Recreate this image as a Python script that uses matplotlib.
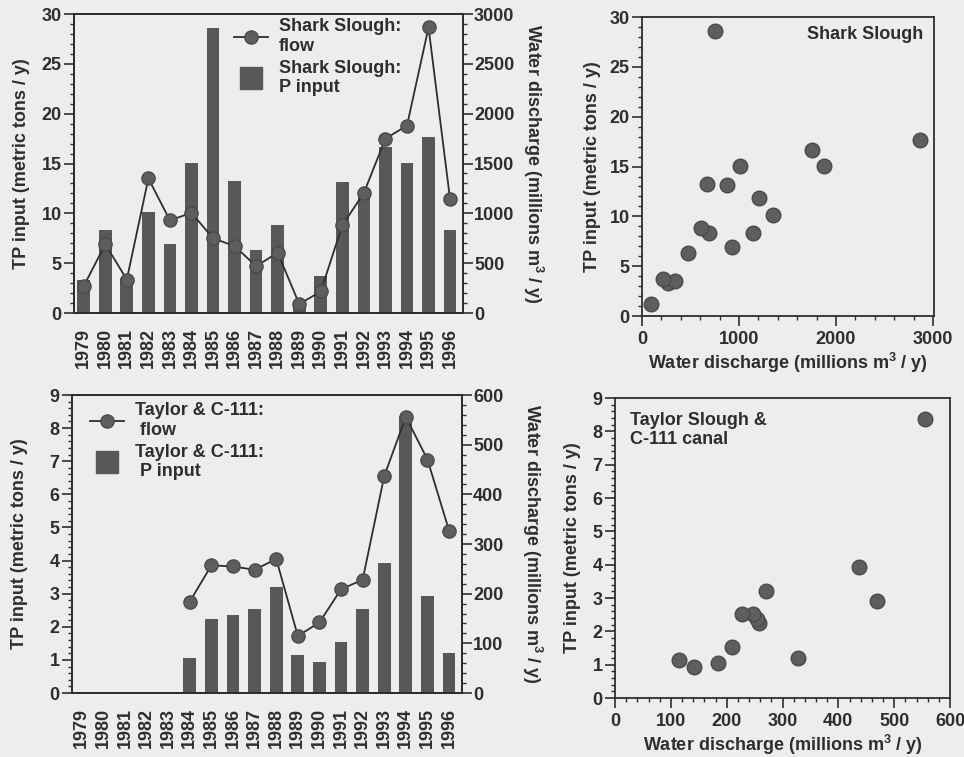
import numpy as np
import matplotlib
matplotlib.use("Agg")
import matplotlib.pyplot as plt
from matplotlib.ticker import MultipleLocator
from matplotlib.lines import Line2D

plt.rcParams['font.family'] = ['Liberation Sans', 'DejaVu Sans']
plt.rcParams['font.weight'] = 'bold'
plt.rcParams['axes.labelweight'] = 'bold'
plt.rcParams['font.size'] = 13

years = list(range(1979, 1997))

# Shark Slough: P input (metric tons / y) and flow (millions m3 / y)
shark_tp = [3.3, 8.3, 3.5, 10.1, 6.9, 15.1, 28.6, 13.2, 6.3, 8.85, 1.25, 3.7,
            13.1, 11.8, 16.7, 15.1, 17.7, 8.3]
shark_flow = [270, 690, 336, 1350, 930, 1005, 750, 672, 470, 605, 90, 216,
              880, 1205, 1750, 1880, 2865, 1140]

# Taylor Slough & C-111 (no data before 1984)
taylor_tp = [np.nan] * 5 + [1.06, 2.24, 2.36, 2.53, 3.2, 1.14, 0.93, 1.53,
                            2.53, 3.92, 8.38, 2.92, 1.2]
taylor_flow = [np.nan] * 5 + [184, 257, 255, 248, 270, 115, 142, 209,
                              228, 437, 556, 470, 327]

BG = '#ededed'
DARK = '#2e2e2e'
BAR = '#585858'
MARK = '#5e5e5e'
MEDGE = '#4a4a4a'

fig = plt.figure(figsize=(9.64, 7.57), dpi=100, facecolor=BG)

x = np.arange(len(years))


def style_axis(ax):
    ax.set_facecolor(BG)
    for s in ax.spines.values():
        s.set_linewidth(1.3)
        s.set_color(DARK)
    ax.tick_params(which='major', direction='out', length=7, width=1.2,
                   color=DARK, labelcolor=DARK, labelsize=13, pad=2)
    ax.tick_params(which='minor', direction='out', length=3, width=1.0,
                   color=DARK)


def bar_line_panel(rect, tp, flow, ymax, ystep, yminor, rmax, rstep, rminor):
    ax = fig.add_axes(rect)
    style_axis(ax)
    ax.bar(x, tp, width=0.59, color=BAR, zorder=2)
    ax.set_xlim(-0.45, len(years) - 0.4)
    ax.set_ylim(0, ymax)
    ax.yaxis.set_major_locator(MultipleLocator(ystep))
    ax.yaxis.set_minor_locator(MultipleLocator(yminor))
    ax.set_xticks(x)
    ax.set_xticklabels(years, rotation=90)
    ax.tick_params(axis='x', length=0, pad=11)
    ax.set_ylabel('TP input (metric tons / y)', color=DARK, fontsize=13)
    ax.yaxis.set_label_coords(-0.135, 0.5)
    ax.yaxis.label.set_va('center')

    ax2 = ax.twinx()
    style_axis(ax2)
    ax2.plot(x, flow, color=DARK, lw=1.3, marker='o', markersize=9.5,
             markerfacecolor=MARK, markeredgecolor=MEDGE, zorder=3)
    ax2.set_ylim(0, rmax)
    ax2.yaxis.set_major_locator(MultipleLocator(rstep))
    ax2.yaxis.set_minor_locator(MultipleLocator(rminor))
    ax2.tick_params(axis='y', pad=1)
    ax2.set_ylabel(r'Water discharge (millions $\mathregular{m^3}$ / y)',
                   color=DARK, fontsize=13, rotation=270)
    ax2.yaxis.set_label_coords(1.18, 0.5)
    ax2.yaxis.label.set_va('center')
    ax2.yaxis.label.set_ha('center')

    handles = [Line2D([], [], color=DARK, lw=1.3, marker='o', markersize=9.5,
                      markerfacecolor=MARK, markeredgecolor=MEDGE),
               Line2D([], [], ls='none', marker='s', markersize=16.5,
                      color=BAR)]
    return ax, ax2, handles


# top-left: Shark Slough time series
ax, ax2, h = bar_line_panel([0.0768, 0.5865, 0.4035, 0.395], shark_tp,
                            shark_flow, 30, 5, 1, 3000, 500, 100)
ax2.legend(h, ['Shark Slough:\nflow', 'Shark Slough:\nP input'],
           loc='upper left', bbox_to_anchor=(0.41, 0.985), frameon=False,
           borderpad=0, borderaxespad=0, handlelength=1.9, handletextpad=0.6,
           labelspacing=0.25, fontsize=13, labelcolor=DARK)

# bottom-left: Taylor & C-111 time series
ax, ax2, h = bar_line_panel([0.0747, 0.0845, 0.4046, 0.3937], taylor_tp,
                            taylor_flow, 9, 1, 0.2, 600, 100, 20)
ax2.legend(h, ['Taylor & C-111:\n flow', 'Taylor & C-111:\n P input'],
           loc='upper left', bbox_to_anchor=(0.046, 0.975), frameon=False,
           borderpad=0, borderaxespad=0, handlelength=1.9, handletextpad=0.6,
           labelspacing=0.25, fontsize=13, labelcolor=DARK)


def scatter_panel(rect, flow, tp, xmax, xstep, xminor, ymax, ystep, yminor):
    ax = fig.add_axes(rect)
    style_axis(ax)
    ax.plot(flow, tp, ls='none', marker='o', markersize=10.5,
            markerfacecolor=MARK, markeredgecolor=MEDGE, zorder=3)
    ax.set_xlim(0, xmax)
    ax.set_ylim(0, ymax)
    ax.xaxis.set_major_locator(MultipleLocator(xstep))
    ax.xaxis.set_minor_locator(MultipleLocator(xminor))
    ax.yaxis.set_major_locator(MultipleLocator(ystep))
    ax.yaxis.set_minor_locator(MultipleLocator(yminor))
    ax.tick_params(axis='x', pad=4)
    ax.set_xlabel(r'Water discharge (millions $\mathregular{m^3}$ / y)',
                  color=DARK, fontsize=13, labelpad=2)
    ax.set_ylabel('TP input (metric tons / y)', color=DARK, fontsize=13)
    ax.yaxis.label.set_va('center')
    return ax


ax = scatter_panel([0.666, 0.5825, 0.3029, 0.395], shark_flow, shark_tp,
                   3010, 1000, 200, 30, 5, 1)
ax.yaxis.set_label_coords(-0.17, 0.5)
ax.text(0.962, 0.97, 'Shark Slough', transform=ax.transAxes, ha='right',
        va='top', color=DARK, fontsize=13)

ax = scatter_panel([0.638, 0.0779, 0.3475, 0.3963], taylor_flow, taylor_tp,
                   600, 100, 20, 9, 1, 0.2)
ax.yaxis.set_label_coords(-0.128, 0.5)
ax.text(0.045, 0.955, 'Taylor Slough &\nC-111 canal', transform=ax.transAxes,
        ha='left', va='top', color=DARK, fontsize=13)

fig.savefig('out.png', dpi=100, facecolor=BG)
